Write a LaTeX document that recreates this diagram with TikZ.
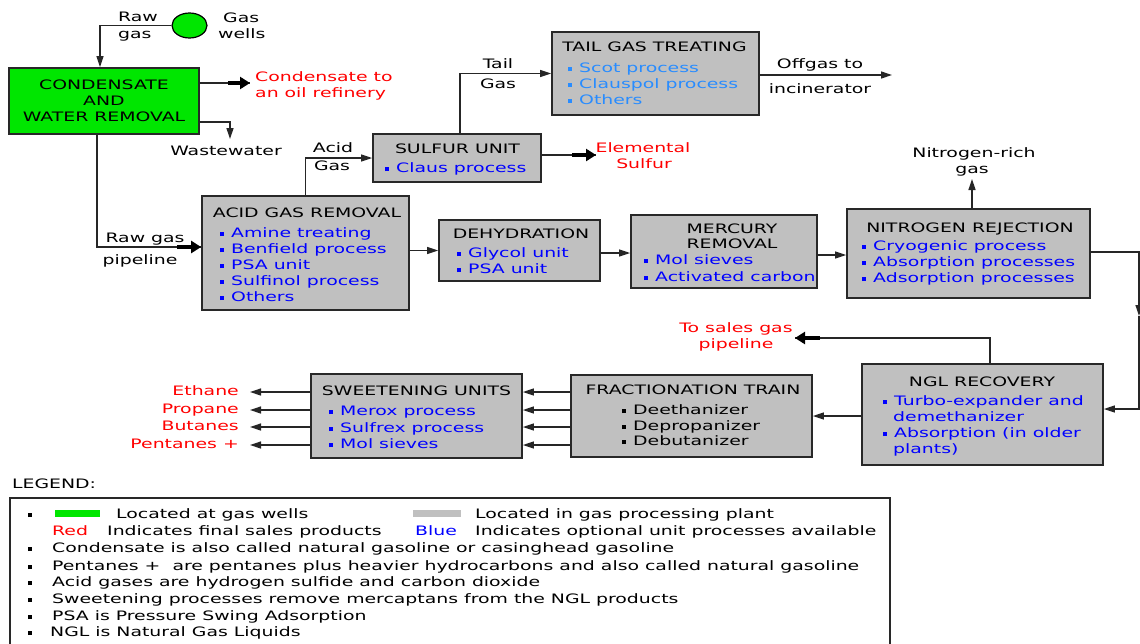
\documentclass[tikz,border=0pt]{standalone}
\usepackage{fontspec}
\setmainfont[FakeStretch=1.45]{DejaVu Sans}
\usetikzlibrary{arrows.meta,shapes.geometric,calc}
\definecolor{gr}{RGB}{0,230,0}
\definecolor{bx}{RGB}{192,192,192}
\definecolor{rd}{RGB}{255,0,0}
\definecolor{bl}{RGB}{0,0,255}
\definecolor{lb}{RGB}{40,140,255}
\definecolor{edge}{RGB}{40,40,40}
\newcommand\bsq{\rule[1.5pt]{4pt}{4pt}}
\newcommand\itm[1]{\bsq\hspace{7pt}#1}
\begin{document}
\begin{tikzpicture}[x=1pt,y=-1pt,
  every node/.style={font=\fontsize{13}{16}\selectfont, inner sep=0pt},
  t/.style={text height=9.5pt, text depth=2.5pt, yshift=-2pt},
  it/.style={t, anchor=west},
  box/.style={draw=edge, line width=1.8pt, fill=bx, inner sep=0pt},
  conn/.style={line width=1.3pt, draw=black!85},
  tip/.style={-{Triangle[length=11pt,width=7pt]}},
  fat/.style={line width=4.5pt, draw=black, -{Triangle[length=10pt,width=12pt]}},
]
\useasboundingbox (0,0) rectangle (1140,643);
\fill[white] (0,0) rectangle (1140,643);

% ---------- gas wells and condensate removal
\node[ellipse, draw=black, line width=1.2pt, fill=gr, minimum width=35pt, minimum height=25pt] (gw) at (189.5,25.5) {};
\node[t, anchor=west] at (223,17) {Gas};
\node[t, anchor=west] at (218,33) {wells};
\node[t, anchor=west] at (118,16) {Raw};
\node[t, anchor=west] at (118,33) {gas};
\node[draw=edge, line width=1.8pt, fill=gr, minimum width=190pt, minimum height=66pt, align=center] (cw) at (104,101) {CONDENSATE\\AND\\WATER REMOVAL};
\draw[conn,tip] (gw.west) -| ([xshift=-4pt]cw.north);

\coordinate (refT) at (250,83);
\draw[conn] (cw.east |- refT) -- (refT);
\draw[fat] ($(refT)+(-22,0)$) -- (refT);
\node[t, anchor=west, text=rd] at (255,76) {Condensate to};
\node[t, anchor=west, text=rd] at (255,92) {an oil refinery};

\coordinate (wwT) at (230,139);
\draw[conn,tip] (cw.east |- 0,122) -| (wwT);
\node[t] (ww) at (226,150) {Wastewater};

% ---------- acid gas removal
\node[box, minimum width=207pt, minimum height=114pt] (agr) at (305.5,253) {};
\node[t] at (307,212) {ACID GAS REMOVAL};
\node[it, text=bl] at (220,232) {\itm{Amine treating}};
\node[it, text=bl] at (220,248) {\itm{Benfield process}};
\node[it, text=bl] at (220,264) {\itm{PSA unit}};
\node[it, text=bl] at (220,280) {\itm{Sulfinol process}};
\node[it, text=bl] at (220,296) {\itm{Others}};

\coordinate (pipeY) at (0,247);
\draw[conn] ([xshift=-7pt]cw.south) |- (agr.west |- pipeY);
\draw[fat] ($(agr.west |- pipeY)+(-24,0)$) -- (agr.west |- pipeY);
\node[t] at (145,237) {Raw gas};
\node[t] at (140,259) {pipeline};

% ---------- sulfur unit
\node[box, minimum width=168pt, minimum height=48pt] (sul) at (457,158) {};
\node[t] at (457.5,148) {SULFUR UNIT};
\node[it, text=bl] at (385,167) {\itm{Claus process}};
\draw[conn,tip] (agr.north) |- (sul.west);
\node[t] at (333,147) {Acid};
\node[t] at (332,165) {Gas};

\coordinate (esT) at (596,155);
\draw[conn] (sul.east |- esT) -- (esT);
\draw[fat] ($(esT)+(-24,0)$) -- (esT);
\node[t, text=rd] at (643,147) {Elemental};
\node[t, text=rd] at (644,163) {Sulfur};

% ---------- tail gas treating
\node[box, minimum width=207pt, minimum height=83pt] (tgt) at (655.5,73.5) {};
\node[t] at (654.5,46) {TAIL GAS TREATING};
\node[it, text=lb] at (568,67) {\itm{Scot process}};
\node[it, text=lb] at (568,83) {\itm{Clauspol process}};
\node[it, text=lb] at (568,99) {\itm{Others}};
\draw[conn,tip] ([xshift=3pt]sul.north) |- (tgt.west);
\node[t] at (498,63) {Tail};
\node[t] at (498,83) {Gas};

\coordinate (ogT) at (892,75);
\draw[conn,tip] (tgt.east |- ogT) -- (ogT);
\node[t] at (820,63) {Offgas to};
\node[t] at (820,88) {incinerator};

% ---------- dehydration
\node[box, minimum width=161pt, minimum height=61pt] (dhy) at (519.5,250.5) {};
\node[t] at (521,233) {DEHYDRATION};
\node[it, text=bl] at (457,252) {\itm{Glycol unit}};
\node[it, text=bl] at (457,268) {\itm{PSA unit}};
\draw[conn,tip] (agr.east |- dhy.west) -- (dhy.west);

% ---------- mercury removal
\node[box, minimum width=186pt, minimum height=73pt] (hg) at (724,251.5) {};
\node[t] at (732,228) {MERCURY};
\node[t] at (732,243) {REMOVAL};
\node[it, text=bl] at (644,259) {\itm{Mol sieves}};
\node[it, text=bl] at (644,276) {\itm{Activated carbon}};
\draw[conn,tip] (dhy.east |- 0,253) -- (hg.west |- 0,253);

% ---------- nitrogen rejection
\node[box, minimum width=243pt, minimum height=89pt] (nr) at (968.5,253.5) {};
\node[t] at (970,227) {NITROGEN REJECTION};
\node[it, text=bl] at (862,245) {\itm{Cryogenic process}};
\node[it, text=bl] at (862,261) {\itm{Absorption processes}};
\node[it, text=bl] at (862,277) {\itm{Adsorption processes}};
\draw[conn,tip] (hg.east |- 0,255) -- (nr.west |- 0,255);

\coordinate (nT) at (972,179);
\draw[conn,tip] (nr.north -| nT) -- (nT);
\node[t] at (974,152) {Nitrogen-rich};
\node[t] at (972,168) {gas};

% ---------- NGL recovery
\node[box, minimum width=241pt, minimum height=101pt] (ngl) at (982.5,414.5) {};
\node[t] at (982,381) {NGL RECOVERY};
\node[it, text=bl] at (883,400) {\itm{Turbo-expander and}};
\node[it, text=bl] at (893,416) {demethanizer};
\node[it, text=bl] at (883,432) {\itm{Absorption (in older}};
\node[it, text=bl] at (893,448) {plants)};

\coordinate (rA) at (1139,316);
\draw[conn,tip] (nr.east |- 0,252) -| (rA);
\draw[conn,tip] (rA) |- (ngl.east |- 0,409);

\coordinate (sgT) at (795,338);
\draw[conn] ([xshift=7.5pt]ngl.north) |- (sgT);
\draw[fat] ($(sgT)+(25,0)$) -- (sgT);
\node[t, text=rd] at (736,327) {To sales gas};
\node[t, text=rd] at (736,343) {pipeline};

% ---------- fractionation train
\node[box, minimum width=241pt, minimum height=82pt] (fr) at (691.5,416) {};
\node[t] at (693,389) {FRACTIONATION TRAIN};
\node[it] at (622,409) {\itm{Deethanizer}};
\node[it] at (622,425) {\itm{Depropanizer}};
\node[it] at (622,440) {\itm{Debutanizer}};
\draw[conn,tip] (ngl.west |- fr.east) -- (fr.east);

% ---------- sweetening units
\node[box, minimum width=211pt, minimum height=84pt] (sw) at (416.5,416) {};
\node[t] at (416.5,390) {SWEETENING UNITS};
\node[it, text=bl] at (329,410) {\itm{Merox process}};
\node[it, text=bl] at (329,427) {\itm{Sulfrex process}};
\node[it, text=bl] at (329,443) {\itm{Mol sieves}};

\node[t, anchor=east, text=rd] (p1) at (239,390) {Ethane};
\node[t, anchor=east, text=rd] (p2) at (239,408) {Propane};
\node[t, anchor=east, text=rd] (p3) at (239,425) {Butanes};
\node[t, anchor=east, text=rd] (p4) at (239,443) {Pentanes +};
\foreach \p in {p1,p2,p3,p4}{
  \draw[conn,tip] (fr.west |- \p) -- (sw.east |- \p);
  \draw[conn,tip] (sw.west |- \p) -- ($(\p.east)+(11,0)$);
}

% ---------- legend
\node[t, anchor=west] (lg) at (12,483) {LEGEND:};
\draw[draw=edge, line width=1.8pt] (10,650) -- (10,498) -- (890,498) -- (890,650);
\node[it] at (28,513) {\bsq};
\fill[gr] (55,509.5) rectangle (100,516.5);
\node[it] at (116,513) {Located at gas wells};
\fill[bx] (413,509.5) rectangle (461,516.5);
\node[it] at (475,513) {Located in gas processing plant};
\node[it, text=rd] at (52,530) {Red};
\node[it] at (107,530) {Indicates final sales products};
\node[it, text=bl] at (415,530) {Blue};
\node[it] at (475,530) {Indicates optional unit processes available};
\node[it] at (28,547) {\bsq\hspace{20pt}Condensate is also called natural gasoline or casinghead gasoline};
\node[it] at (28,565) {\bsq\hspace{20pt}Pentanes +\ \ are pentanes plus heavier hydrocarbons and also called natural gasoline};
\node[it] at (28,581) {\bsq\hspace{20pt}Acid gases are hydrogen sulfide and carbon dioxide};
\node[it] at (28,598) {\bsq\hspace{20pt}Sweetening processes remove mercaptans from the NGL products};
\node[it] at (28,615) {\bsq\hspace{20pt}PSA is Pressure Swing Adsorption};
\node[it] at (28,631) {\bsq\hspace{18pt}NGL is Natural Gas Liquids};
\end{tikzpicture}
\end{document}
